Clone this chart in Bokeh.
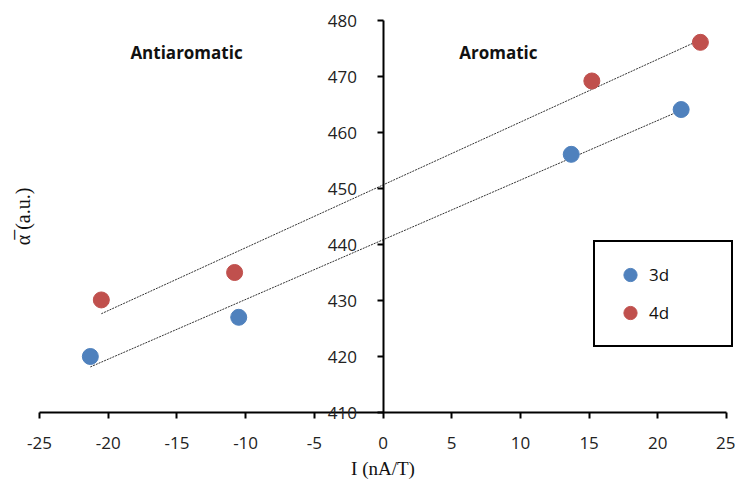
import numpy as np
from bokeh.plotting import figure
from bokeh.models import Range1d, Label, Legend, LegendItem, FixedTicker, PrintfTickFormatter
from bokeh.embed import file_html
from bokeh.resources import INLINE

# data
x_3d = [-21.3, -10.5, 13.7, 21.7]
y_3d = [420.0, 427.0, 456.1, 464.1]
x_4d = [-20.5, -10.8, 15.2, 23.1]
y_4d = [430.1, 435.0, 469.2, 476.1]
x_ticks = [-25, -20, -15, -10, -5, 0, 5, 10, 15, 20, 25]
y_ticks = [410, 420, 430, 440, 450, 460, 470, 480]
x_min, x_max = -25, 25
y_min, y_max = 410, 480
series_names = ["3d", "4d"]
region_labels = ["Antiaromatic", "Aromatic"]
region_x = [-14.3, 8.4]
region_y = [474.3, 474.3]

BLUE = "#4F81BD"
RED = "#C0504D"
FONT = "Open Sans"

# the frame covers the whole canvas so that the axes (drawn at fixed locations) are not clipped
W, H = 735, 481
left_px, right_px = 39, 9
top_px, bottom_px = 20, 69
upx = (x_max - x_min) / (W - left_px - right_px)
upp = (y_max - y_min) / (H - top_px - bottom_px)
p = figure(width=W, height=H,
           x_range=Range1d(x_min - left_px * upx, x_max + right_px * upx),
           y_range=Range1d(y_min - bottom_px * upp, y_max + top_px * upp),
           output_backend="svg", toolbar_location=None,
           min_border_left=0, min_border_right=0, min_border_top=0, min_border_bottom=0)
p.outline_line_color = None
p.grid.visible = False
p.background_fill_color = "white"

# axes
p.xaxis.ticker = FixedTicker(ticks=x_ticks)
p.yaxis.ticker = FixedTicker(ticks=y_ticks)
p.xaxis.formatter = PrintfTickFormatter(format="%d")
p.yaxis.formatter = PrintfTickFormatter(format="%d")
p.yaxis.fixed_location = 0
p.xaxis.fixed_location = y_min
p.yaxis.bounds = (y_min, y_max)
p.xaxis.bounds = (x_min, x_max)
for ax in (p.xaxis, p.yaxis):
    ax.axis_line_color = "black"
    ax.axis_line_width = 2
    ax.major_tick_line_color = "black"
    ax.major_tick_line_width = 2
    ax.major_tick_in = 0
    ax.major_tick_out = 6
    ax.minor_tick_line_color = None
    ax.major_label_text_font = FONT
    ax.major_label_text_font_size = "17px"
    ax.major_label_text_color = "#222222"
p.yaxis.major_label_standoff = 20
p.xaxis.major_label_standoff = 18
p.xaxis.axis_label = "I (nA/T)"
p.xaxis.axis_label_text_font = "Liberation Serif"
p.xaxis.axis_label_text_font_style = "normal"
p.xaxis.axis_label_text_font_size = "19px"
p.xaxis.axis_label_text_color = "#111111"
p.xaxis.axis_label_standoff = 6

# y-axis title, placed in the left margin
p.add_layout(Label(x=x_min - (left_px - 22) * upx, y=y_max - (216 - top_px) * upp,
                   text="\u03b1\u0305 (a.u.)", angle=np.pi / 2, text_align="center",
                   text_baseline="middle", text_font="Liberation Serif",
                   text_font_size="20px", text_color="#111111"))

# trendlines (least squares)
for xs, ys in ((x_3d, y_3d), (x_4d, y_4d)):
    m, b = np.polyfit(xs, ys, 1)
    lx = np.array([min(xs), max(xs)])
    p.line(lx, m * lx + b, line_color="#333333", line_width=1, line_dash="2 1")

r3 = p.scatter(x_3d, y_3d, size=16, fill_color=BLUE, line_color=BLUE)
r4 = p.scatter(x_4d, y_4d, size=16, fill_color=RED, line_color=RED)

for t, x, y in zip(region_labels, region_x, region_y):
    p.add_layout(Label(x=x, y=y, text=t, text_font=FONT, text_font_size="17px",
                       text_font_style="bold", text_align="center", text_baseline="middle",
                       text_color="#111111"))

legend = Legend(items=[LegendItem(label=series_names[0], renderers=[r3]),
                       LegendItem(label=series_names[1], renderers=[r4])],
                location=(554 + left_px, 65 + bottom_px), padding=16, spacing=5,
                glyph_width=38, glyph_height=33, label_standoff=0, label_width=66,
                label_text_font=FONT, label_text_font_size="17px", label_text_color="#111111",
                border_line_color="black", border_line_width=2, border_line_alpha=1.0,
                background_fill_color="white", background_fill_alpha=1)
p.add_layout(legend)

open("out.html", "w").write(file_html(p, INLINE))
